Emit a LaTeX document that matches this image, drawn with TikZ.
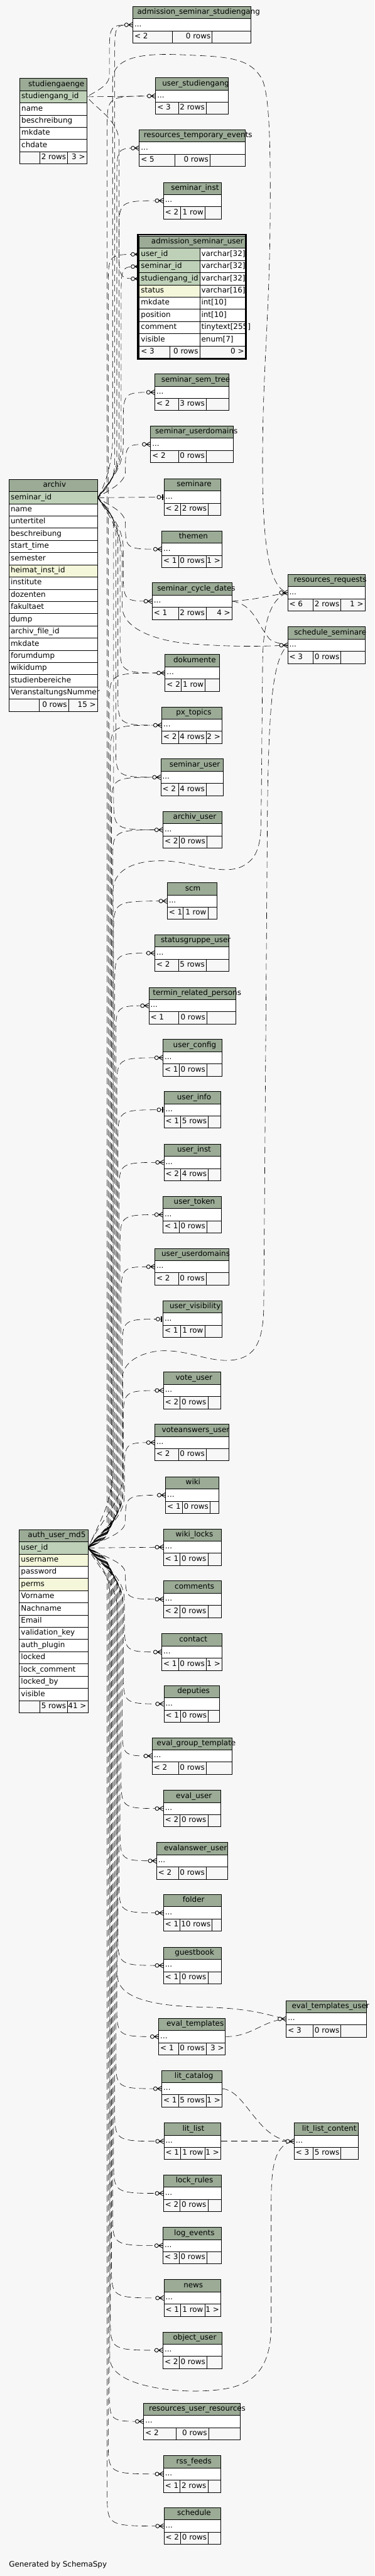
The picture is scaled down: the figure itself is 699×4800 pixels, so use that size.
\documentclass[tikz,border=0pt]{standalone}
\usepackage{fontspec}
\setmainfont{DejaVu Sans}
\usetikzlibrary{calc,backgrounds}
\definecolor{bg}{HTML}{F7F7F7}
\definecolor{hdc}{HTML}{9BAB96}
\definecolor{pkc}{HTML}{BED1B8}
\definecolor{idxc}{HTML}{F4F7DA}
\def\rh{22.75}
\newdimen\ttlw
\font\ttlmeas="DejaVu Sans" at 14pt
\newcommand{\tfont}{\fontsize{14pt}{17pt}\selectfont}
\tikzset{cellbox/.style={draw,anchor=north west,inner xsep=3pt,inner ysep=0pt,minimum height=\rh pt,text height=10pt,text depth=3.5pt,line width=1pt},
  rel/.style={line width=0.7pt,dash pattern=on 12pt off 7pt},
  mk/.style={line width=1pt}}
% one cell: name, x1, x2, top, l/r, fill, text
\newcommand{\tcell}[7]{\pgfmathsetmacro\cw{#3-#2}%
  \node[cellbox,fill=#6,minimum width=\cw pt] (#1) at (#2,#4) {\makebox[\dimexpr\cw pt-6pt\relax][#5]{#7}};}
\newcommand{\tblhead}[5]{\setbox0=\hbox{\ttlmeas #5}\ttlw=\wd0
  \pgfmathsetmacro\ttlo{max(0,(#3-#2-0.892*\ttlw)/2-3)}%
  \tcell{#1}{#2}{#3}{#4}{l}{hdc}{\hspace*{\ttlo pt}#5}}
% small table: id, x1, x2, top, title, c1, c2, parents, rows
\newcommand{\ctbl}[9]{\tblhead{#1-h}{#2}{#3}{#4}{#5}%
  \tcell{#1}{#2}{#3}{#4+\rh}{l}{white}{...}%
  \tcell{#1-n}{#2}{#6}{#4+2*\rh}{l}{bg}{#8}%
  \tcell{#1-r}{#6}{#7}{#4+2*\rh}{r}{bg}{#9}%
  \tcell{#1-x}{#7}{#3}{#4+2*\rh}{r}{bg}{}}
\newcommand{\cthird}[2]{\node[anchor=east,inner sep=0pt,text height=10pt,text depth=3.5pt] (#1-xt) at ([xshift=-3pt]#1-x.east) {#2};}
% parent key -> child row, fanning out into a channel at x=#3
\newcommand{\relink}[3]{\draw[rel,dash phase={#3pt}] let \p1=(#1.east), \p2=(#2.west),
    \n1={ifthenelse(\y2<\y1,-1,1)}, \n2={min(60,abs(\y2-\y1)/2)}, \n3={min(abs(\y2-\y1)/2,2.5*(#3-188))} in
    (\p1) .. controls ({\x1+15pt},{\y1+\n1*0.25*\n3}) and ({#3pt},{\y1+\n1*0.5*\n3}) .. ({#3pt},{\y1+\n1*\n3})
    -- ({#3pt},{\y2-\n1*\n2}) .. controls ({#3pt},{\y2}) .. (\p2);}
\newcommand{\markmany}[1]{%
  \draw[mk] ($(#1.west)+(-8,0)$) -- ($(#1.west)+(0,-4.5)$) ($(#1.west)+(-8,0)$) -- (#1.west)
    ($(#1.west)+(-8,0)$) -- ($(#1.west)+(0,4.5)$);
  \draw[mk,fill=bg] ($(#1.west)+(-11.5,0)$) circle[radius=3.5pt];}
\newcommand{\markone}[1]{%
  \draw[line width=2.5pt] ($(#1.west)+(-2,-5)$) -- ($(#1.west)+(-2,5)$);
  \draw[mk,fill=bg] ($(#1.west)+(-9,0)$) circle[radius=3.5pt];}

\begin{document}
\tfont
\begin{tikzpicture}[x=1pt,y=-1pt]
\useasboundingbox (0,0) rectangle (699,4800);
\begin{scope}[on background layer]
\fill[bg] (0,0) rectangle (699,4800);
\end{scope}

% parent tables
\tblhead{stud-h}{36.6}{161.4}{145.7}{studiengaenge}
\foreach \f/\c [count=\i] in {studiengang\_id/pkc,name/white,beschreibung/white,mkdate/white,chdate/white}
  {\tcell{stud-\i}{36.6}{161.4}{145.7+\i*\rh}{l}{\c}{\f}}
\tcell{stud-f1}{36.6}{73.6}{145.7+6*\rh}{l}{bg}{} \tcell{stud-f2}{73.6}{125.7}{145.7+6*\rh}{r}{bg}{2 rows}
\tcell{stud-f3}{125.7}{161.4}{145.7+6*\rh}{r}{bg}{3 >}

\tblhead{arc-h}{16.5}{181.4}{892.7}{archiv}
\foreach \f/\c [count=\i] in {seminar\_id/pkc,name/white,untertitel/white,beschreibung/white,start\_time/white,
    semester/white,heimat\_inst\_id/idxc,institute/white,dozenten/white,fakultaet/white,dump/white,
    archiv\_file\_id/white,mkdate/white,forumdump/white,wikidump/white,studienbereiche/white,VeranstaltungsNummer/white}
  {\tcell{arc-\i}{16.5}{181.4}{892.7+\i*\rh}{l}{\c}{\f}}
\tcell{arc-f1}{16.5}{72.7}{892.7+18*\rh}{l}{bg}{} \tcell{arc-f2}{72.7}{127.5}{892.7+18*\rh}{r}{bg}{0 rows}
\tcell{arc-f3}{127.5}{181.4}{892.7+18*\rh}{r}{bg}{15 >}

\tblhead{aum-h}{35.7}{163.6}{2849.7}{auth\_user\_md5}
\foreach \f/\c [count=\i] in {user\_id/pkc,username/idxc,password/white,perms/idxc,Vorname/white,Nachname/white,
    Email/white,validation\_key/white,auth\_plugin/white,locked/white,lock\_comment/white,locked\_by/white,visible/white}
  {\tcell{aum-\i}{35.7}{163.6}{2849.7+\i*\rh}{l}{\c}{\f}}
\tcell{aum-f1}{35.7}{73.6}{2849.7+14*\rh}{l}{bg}{} \tcell{aum-f2}{73.6}{125.7}{2849.7+14*\rh}{r}{bg}{5 rows}
\tcell{aum-f3}{125.7}{163.6}{2849.7+14*\rh}{r}{bg}{41 >}

% the focus table
\tblhead{asu-h}{259.5}{457.8}{439.3}{admission\_seminar\_user}
\foreach \f/\t/\c [count=\i] in {user\_id/varchar[32]/pkc,seminar\_id/varchar[32]/pkc,studiengang\_id/varchar[32]/pkc,
    status/varchar[16]/idxc,mkdate/int[10]/white,position/int[10]/white,comment/tinytext[255]/white,visible/enum[7]/white}
  {\tcell{asu-\i}{259.5}{372.2}{439.3+\i*\rh}{l}{\c}{\f}
   \tcell{asu-t\i}{372.2}{457.8}{439.3+\i*\rh}{l}{white}{\t}}
\tcell{asu-f1}{259.5}{316.5}{439.3+9*\rh}{l}{bg}{< 3} \tcell{asu-f2}{316.5}{372.2}{439.3+9*\rh}{r}{bg}{0 rows}
\tcell{asu-f3}{372.2}{457.8}{439.3+9*\rh}{r}{bg}{0 >}
\draw[line width=3pt] (257.5,437.3) rectangle (459,668.5);

% other tables
\ctbl{ass}{247.4}{468.1}{11.7}{admission\_seminar\_studiengang}{321}{395.4}{< 2}{0 rows}
\ctbl{usg}{289.8}{425.7}{144.3}{user\_studiengang}{332.6}{384.3}{< 3}{2 rows}
\ctbl{rte}{259.5}{456.5}{241.3}{resources\_temporary\_events}{325.4}{391.4}{< 5}{0 rows}
\ctbl{sinst}{304.5}{412.4}{339.3}{seminar\_inst}{336.6}{382}{< 2}{1 row}
\ctbl{sst}{288.4}{427}{696.3}{seminar\_sem\_tree}{332.6}{384.3}{< 2}{3 rows}
\ctbl{sud}{280.4}{435.1}{793.3}{seminar\_userdomains}{332.6}{384.3}{< 2}{0 rows}
\ctbl{sem}{305.4}{411}{891.7}{seminare}{336.6}{388.3}{< 2}{2 rows}
\ctbl{thm}{301.4}{413.3}{988.7}{themen}{332.6}{384.3}{< 1}{0 rows} \cthird{thm}{1 >}
\ctbl{scd}{283.5}{432}{1085.7}{seminar\_cycle\_dates}{332.6}{384.3}{< 1}{2 rows} \cthird{scd}{4 >}
\ctbl{rr}{536.3}{680.3}{1069.7}{resources\_requests}{583.6}{635.7}{< 6}{2 rows} \cthird{rr}{1 >}
\ctbl{ss}{536.3}{680.3}{1167.7}{schedule\_seminare}{583.6}{635.7}{< 3}{0 rows}
\ctbl{dok}{307.6}{409.2}{1219.3}{dokumente}{337.5}{382.5}{< 2}{1 row}
\ctbl{pxt}{301.4}{413.3}{1316.7}{px\_topics}{332.6}{384.3}{< 2}{4 rows} \cthird{pxt}{2 >}
\ctbl{su}{299.6}{416}{1413.7}{seminar\_user}{332.6}{384.3}{< 2}{4 rows}
\ctbl{au}{303.6}{413.3}{1511.7}{archiv\_user}{333.5}{385.6}{< 2}{0 rows}
\ctbl{scm}{311.6}{404}{1644.3}{scm}{341.5}{387.4}{< 1}{1 row}
\ctbl{sgu}{288.4}{427}{1741.3}{statusgruppe\_user}{332.6}{384.3}{< 2}{5 rows}
\ctbl{trp}{277.3}{439.1}{1839.3}{termin\_related\_persons}{332.6}{385.6}{< 1}{0 rows}
\ctbl{ucf}{303.6}{413.3}{1936.3}{user\_config}{333.5}{385.6}{< 1}{0 rows}
\ctbl{uinfo}{305.4}{411}{2033.3}{user\_info}{336.6}{388.3}{< 1}{5 rows}
\ctbl{uinst}{305.4}{411}{2131.3}{user\_inst}{336.6}{388.3}{< 2}{4 rows}
\ctbl{utok}{303.6}{412.4}{2228.7}{user\_token}{333.5}{385.6}{< 1}{0 rows}
\ctbl{uud}{288.4}{427}{2325.7}{user\_userdomains}{332.6}{384.3}{< 2}{0 rows}
\ctbl{uvis}{303.6}{413.3}{2423.3}{user\_visibility}{336.6}{381.6}{< 1}{1 row}
\ctbl{vu}{304.5}{411}{2556.3}{vote\_user}{335.7}{387.4}{< 2}{0 rows}
\ctbl{vau}{288.4}{427}{2653.3}{voteanswers\_user}{332.6}{384.3}{< 2}{0 rows}
\ctbl{wiki}{308.5}{408}{2751.3}{wiki}{339.7}{391.4}{< 1}{0 rows}
\ctbl{wl}{304.5}{412.4}{2848.3}{wiki\_locks}{335.7}{387.4}{< 1}{0 rows}
\ctbl{com}{304.5}{412.4}{2945.3}{comments}{335.7}{387.4}{< 2}{0 rows}
\ctbl{con}{301.4}{413.3}{3043.7}{contact}{332.6}{384.3}{< 1}{0 rows} \cthird{con}{1 >}
\ctbl{dep}{305.4}{409.2}{3140.3}{deputies}{336.6}{388.3}{< 1}{0 rows}
\ctbl{egt}{283.5}{432}{3237.3}{eval\_group\_template}{332.6}{384.3}{< 2}{0 rows}
\ctbl{eu}{304.5}{411}{3335.3}{eval\_user}{335.7}{387.4}{< 2}{0 rows}
\ctbl{eau}{291.6}{424}{3432.7}{evalanswer\_user}{332.6}{384.3}{< 2}{0 rows}
\ctbl{fol}{304.5}{412.4}{3529.7}{folder}{335.7}{395.4}{< 1}{10 rows}
\ctbl{gb}{304.5}{412.4}{3627.7}{guestbook}{335.7}{387.4}{< 1}{0 rows}
\ctbl{etu}{533.6}{683}{3727.3}{eval\_templates\_user}{583.6}{635.7}{< 3}{0 rows}
\ctbl{et}{295.6}{420}{3760.3}{eval\_templates}{332.6}{384.3}{< 1}{0 rows} \cthird{et}{3 >}
\ctbl{lc}{301.4}{413.3}{3857.3}{lit\_catalog}{332.6}{384.3}{< 1}{5 rows} \cthird{lc}{1 >}
\ctbl{ll}{305.4}{411}{3955.3}{lit\_list}{336.6}{381.6}{< 1}{1 row} \cthird{ll}{1 >}
\ctbl{llc}{548.3}{668.3}{3955.3}{lit\_list\_content}{583.6}{635.7}{< 3}{5 rows}
\ctbl{lr}{304.5}{412.4}{4052.3}{lock\_rules}{335.7}{387.4}{< 2}{0 rows}
\ctbl{le}{303.6}{412.4}{4149.7}{log\_events}{333.5}{385.6}{< 3}{0 rows}
\ctbl{news}{305.4}{411}{4247.3}{news}{336.6}{381.6}{< 1}{1 row} \cthird{news}{1 >}
\ctbl{ou}{303.6}{413.3}{4344.7}{object\_user}{333.5}{385.6}{< 2}{0 rows}
\ctbl{rur}{267.5}{448}{4477.3}{resources\_user\_resources}{328.5}{388.7}{< 2}{0 rows}
\ctbl{rss}{304.5}{411}{4575.3}{rss\_feeds}{335.7}{387.4}{< 1}{2 rows}
\ctbl{sch}{305.4}{411}{4672.3}{schedule}{336.6}{388.3}{< 2}{0 rows}

\node[anchor=base west,inner sep=0pt] (gen) at (16.5,4783) {Generated by SchemaSpy};

% relationships
\begin{scope}[on background layer]
% studiengaenge
\draw[rel] (stud-1.east) -- (usg.west); \relink{stud-1}{ass}{204} \relink{stud-1}{asu-3}{222}
% archiv
\draw[rel] (arc-1.east) -- (sem.west);
\relink{arc-1}{ass}{214} \relink{arc-1}{rte}{218} \relink{arc-1}{sinst}{222} \relink{arc-1}{asu-2}{226}
\relink{arc-1}{sst}{230} \relink{arc-1}{sud}{234} \relink{arc-1}{thm}{234} \relink{arc-1}{scd}{230}
\relink{arc-1}{dok}{224} \relink{arc-1}{pxt}{220} \relink{arc-1}{su}{216} \relink{arc-1}{au}{212}
\draw[rel] (arc-1.east) .. controls (196,905) and (210,860) .. (210,820) -- (210,150) .. controls (210,95) and (300,100) .. (360,103)
  .. controls (430,106) and (470,110) .. (490,150) .. controls (502,180) and (505,260) .. (504,400)
  .. controls (503,600) and (488,700) .. (490,900) .. controls (492,1030) and (505,1095) .. (rr.west);
\draw[rel,dash phase=5pt] (arc-1.east) .. controls (196,950) and (228,990) .. (228,1040) -- (228,1130) .. controls (228,1175) and (300,1196) .. (360,1200)
  .. controls (430,1205) and (480,1205) .. (ss.west);
\draw[rel] (scd.east) .. controls (470,1117) .. (rr.west);
\draw[rel] (scd.east) .. controls (470,1125) and (480,1160) .. (495,1180) .. controls (505,1195) .. (ss.west);
% auth_user_md5, upwards
\relink{aum-1}{usg}{200} \relink{aum-1}{asu-1}{202} \relink{aum-1}{dok}{204} \relink{aum-1}{pxt}{206}
\relink{aum-1}{su}{208} \relink{aum-1}{au}{210} \relink{aum-1}{scm}{212} \relink{aum-1}{sgu}{214}
\relink{aum-1}{trp}{216} \relink{aum-1}{ucf}{218} \relink{aum-1}{uinfo}{220} \relink{aum-1}{uinst}{222}
\relink{aum-1}{utok}{224} \relink{aum-1}{uud}{226} \relink{aum-1}{uvis}{228} \relink{aum-1}{vu}{230}
\relink{aum-1}{vau}{232} \relink{aum-1}{wiki}{234}
\draw[rel,dash phase=3pt] (aum-1.east) .. controls (178,2850) and (211,2800) .. (211,2740) -- (211,1660) .. controls (211,1612) and (270,1600) .. (320,1605)
  .. controls (370,1610) and (410,1628) .. (446,1617) .. controls (475,1605) and (485,1585) .. (487,1540)
  -- (490,1230) .. controls (491,1160) and (505,1115) .. (rr.west);
\draw[rel,dash phase=9pt] (aum-1.east) .. controls (178,2845) and (229,2800) .. (229,2750) -- (229,2565) .. controls (229,2540) and (260,2520) .. (300,2517)
  .. controls (350,2515) and (380,2535) .. (425,2535) .. controls (470,2533) and (490,2510) .. (492,2440)
  -- (499,1500) .. controls (502,1300) and (510,1230) .. (ss.west);
% auth_user_md5, downwards
\draw[rel] (aum-1.east) -- (wl.west);
\relink{aum-1}{com}{234} \relink{aum-1}{con}{232} \relink{aum-1}{dep}{230} \relink{aum-1}{egt}{228}
\relink{aum-1}{eu}{226} \relink{aum-1}{eau}{224} \relink{aum-1}{fol}{222} \relink{aum-1}{gb}{220}
\relink{aum-1}{et}{218} \relink{aum-1}{lc}{216} \relink{aum-1}{ll}{214} \relink{aum-1}{lr}{212}
\relink{aum-1}{le}{210} \relink{aum-1}{news}{208} \relink{aum-1}{ou}{206} \relink{aum-1}{rur}{204}
\relink{aum-1}{rss}{202} \relink{aum-1}{sch}{200}
\draw[rel,dash phase=6pt] (aum-1.east) .. controls (178,2915) and (219,2950) .. (219,3000) -- (219,3680) .. controls (219,3725) and (290,3738) .. (380,3740)
  .. controls (470,3742) and (500,3755) .. (etu.west);
\draw[rel] (et.east) .. controls (470,3795) and (490,3765) .. (etu.west);
\draw[rel] (lc.east) .. controls (460,3895) and (480,3990) .. (llc.west);
\draw[rel] (ll.east) -- (llc.west);
\draw[rel,dash phase=11pt] (aum-1.east) .. controls (178,2905) and (205,2930) .. (205,2970) -- (205,4395) .. controls (207,4445) and (320,4458) .. (380,4455)
  .. controls (460,4452) and (506,4430) .. (506,4330) -- (506,4100) .. controls (506,4030) and (515,3995) .. (llc.west);
\end{scope}

% ends
\foreach \t in {ass,usg,rte,sinst,asu-1,asu-2,asu-3,sst,sud,thm,scd,rr,ss,dok,pxt,su,au,scm,sgu,trp,ucf,uinst,utok,uud,
    vu,vau,wiki,wl,com,con,dep,egt,eu,eau,fol,gb,etu,et,lc,ll,llc,lr,le,news,ou,rur,rss,sch}
  {\markmany{\t}}
\foreach \t in {sem,uinfo,uvis} {\markone{\t}}
\end{tikzpicture}
\end{document}
